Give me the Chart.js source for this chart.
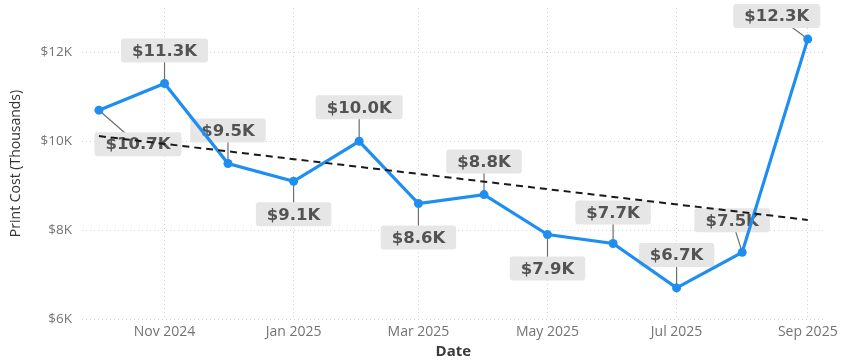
<!DOCTYPE html>
<html>
<head>
<meta charset="utf-8">
<script src="https://cdn.jsdelivr.net/npm/chart.js@4.4.1/dist/chart.umd.min.js"></script>
<style>
  html, body { margin: 0; padding: 0; background: #fff; }
  #wrap { width: 843px; height: 362px; position: relative; }
</style>
</head>
<body>
<div id="wrap"><canvas id="c"></canvas></div>
<script>
// ---- data ----
const months = ['2024-10-01','2024-11-01','2024-12-01','2025-01-01','2025-02-01','2025-03-01',
                '2025-04-01','2025-05-01','2025-06-01','2025-07-01','2025-08-01','2025-09-01'];
const printCost = [10.7, 11.3, 9.5, 9.1, 10.0, 8.6, 8.8, 7.9, 7.7, 6.7, 7.5, 12.3]; // thousands USD
const xTickDates = ['2024-11-01','2025-01-01','2025-03-01','2025-05-01','2025-07-01','2025-09-01'];
const xTickLabels = ['Nov 2024','Jan 2025','Mar 2025','May 2025','Jul 2025','Sep 2025'];
const yTickValues = [6, 8, 10, 12];

// ---- layout of value labels (pixel offsets from point to label centre) ----
const labelOffsets = [[39,34],[0,-33],[0,-33],[0,33],[0,-34],[0,34],[0,-33],[0,34],[0,-31],[0,-33],[-10,-32],[-31,-23]];

const DAY = 86400000;
const origin = Date.parse(months[0] + 'T00:00:00Z');
const toDay = s => (Date.parse(s + 'T00:00:00Z') - origin) / DAY;
const xs = months.map(toDay);
const pts = xs.map((x, i) => ({x, y: printCost[i]}));

// least-squares trend line over the series
const n = xs.length;
const mx = xs.reduce((a,b)=>a+b,0)/n, my = printCost.reduce((a,b)=>a+b,0)/n;
let sxy = 0, sxx = 0;
xs.forEach((x,i)=>{ sxy += (x-mx)*(printCost[i]-my); sxx += (x-mx)*(x-mx); });
const slope = sxy/sxx, icpt = my - slope*mx;
const trend = [{x: xs[0], y: icpt + slope*xs[0]}, {x: xs[n-1], y: icpt + slope*xs[n-1]}];

const tickDays = xTickDates.map(toDay);

const labelPlugin = {
  id: 'valueLabels',
  beforeDatasetsDraw(chart) {
    const ctx = chart.ctx;
    const meta = chart.getDatasetMeta(1);
    ctx.save();
    ctx.font = 'bold 16.5px "DejaVu Sans", sans-serif';
    meta.data.forEach((el, i) => {
      const [dx, dy] = labelOffsets[i];
      const cx = el.x + dx, cy = el.y + dy;
      const txt = '$' + printCost[i].toFixed(1) + 'K';
      const w = ctx.measureText(txt).width + 22, h = 24;
      // leader
      ctx.strokeStyle = '#6e6e6e';
      ctx.lineWidth = 1.2;
      ctx.beginPath();
      ctx.moveTo(el.x, el.y);
      ctx.lineTo(cx, cy);
      ctx.stroke();
      // box
      ctx.fillStyle = '#e6e6e6';
      ctx.beginPath();
      if (ctx.roundRect) ctx.roundRect(cx - w/2, cy - h/2, w, h, 3); else ctx.rect(cx - w/2, cy - h/2, w, h);
      ctx.fill();
      ctx.fillStyle = '#535353';
      ctx.textAlign = 'center';
      ctx.textBaseline = 'middle';
      ctx.fillText(txt, cx, cy + 1);
    });
    ctx.restore();
  }
};

new Chart(document.getElementById('c'), {
  type: 'line',
  data: {
    datasets: [
      {
        label: 'Trend',
        data: trend,
        borderColor: '#1a1a1a',
        borderWidth: 2,
        borderDash: [7, 5],
        pointRadius: 0,
        fill: false,
        order: 0
      },
      {
        label: 'Print Cost',
        data: pts,
        borderColor: '#1f8ef1',
        backgroundColor: '#1f8ef1',
        borderWidth: 3.2,
        pointRadius: 4.5,
        pointBorderWidth: 0,
        tension: 0,
        fill: false,
        order: 1
      }
    ]
  },
  options: {
    responsive: true,
    maintainAspectRatio: false,
    animation: false,
    layout: { padding: { left: 4, right: 16, top: 0, bottom: 0 } },
    plugins: { legend: { display: false }, tooltip: { enabled: false } },
    scales: {
      x: {
        type: 'linear',
        min: -8,
        max: 343,
        afterBuildTicks: (s) => { s.ticks = tickDays.map(v => ({value: v})); },
        afterFit: (s) => { s.height = 43; },
        ticks: {
          callback: (v) => { const k = tickDays.indexOf(v); return k >= 0 ? xTickLabels[k] : ''; },
          color: '#737373',
          font: { family: '"Open Sans", "Noto Sans", sans-serif', size: 14 },
          padding: 5,
          maxRotation: 0,
          autoSkip: false
        },
        grid: { color: '#d4d4d4', lineWidth: 1, drawTicks: false },
        border: { display: false, dash: [1, 3] },
        title: {
          display: true,
          text: 'Date',
          color: '#3a3a3a',
          font: { family: '"Open Sans", "Noto Sans", sans-serif', size: 15, weight: 'bold' },
          padding: { top: 0, bottom: 1 }
        }
      },
      y: {
        min: 6,
        max: 13,
        afterBuildTicks: (s) => { s.ticks = yTickValues.map(v => ({value: v})); },
        afterFit: (s) => { s.width = 78; s.paddingTop = 8; s.paddingBottom = 0; },
        ticks: {
          callback: (v) => '$' + v + 'K',
          color: '#737373',
          font: { family: '"Open Sans", "Noto Sans", sans-serif', size: 13.5 },
          padding: 10
        },
        grid: { color: '#d4d4d4', lineWidth: 1, drawTicks: false },
        border: { display: false, dash: [1, 3] },
        title: {
          display: true,
          text: 'Print Cost (Thousands)',
          color: '#333333',
          font: { family: '"Open Sans", "Noto Sans", sans-serif', size: 14 },
          padding: { top: 4, bottom: 4 }
        }
      }
    }
  },
  plugins: [labelPlugin]
});
</script>
</body>
</html>
